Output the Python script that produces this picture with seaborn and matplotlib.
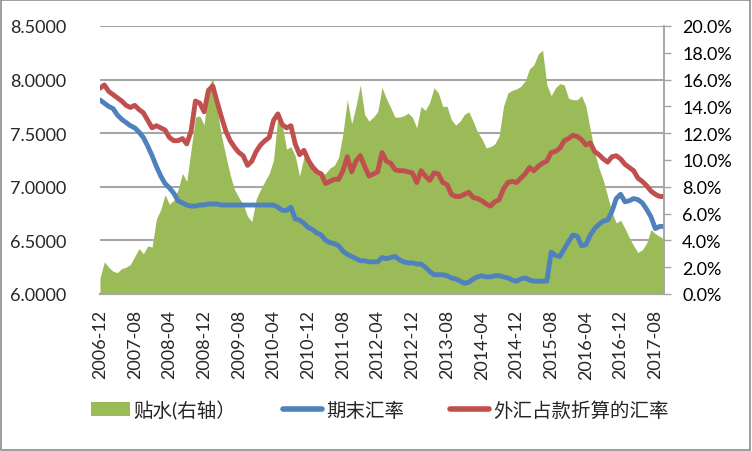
import matplotlib
matplotlib.use("Agg")
import matplotlib.pyplot as plt
import seaborn as sns
import pandas as pd
import numpy as np
from matplotlib.patches import Patch, Rectangle
from matplotlib.lines import Line2D
from matplotlib.ticker import MultipleLocator, FuncFormatter

# months 2006-12 .. 2017-10
months = pd.period_range("2006-12", "2017-10", freq="M").strftime("%Y-%m").tolist()

# 期末汇率
rate_end = [
    7.81, 7.78, 7.75, 7.73, 7.67, 7.63, 7.60, 7.57, 7.55, 7.51, 7.46, 7.38, 7.29,
    7.19, 7.10, 7.03, 6.99, 6.94, 6.87, 6.85, 6.83, 6.82, 6.82, 6.83, 6.83,
    6.84, 6.84, 6.84, 6.83, 6.83, 6.83, 6.83, 6.83, 6.83, 6.83, 6.83, 6.83,
    6.83, 6.83, 6.83, 6.83, 6.81, 6.78, 6.78,
    6.81, 6.70, 6.69, 6.66, 6.62, 6.60, 6.57, 6.55, 6.50, 6.48, 6.47, 6.45,
    6.40, 6.37, 6.35, 6.33, 6.31, 6.31, 6.30, 6.30, 6.30,
    6.34, 6.33, 6.34, 6.35, 6.32, 6.30, 6.29, 6.29, 6.28, 6.28, 6.25, 6.21,
    6.18, 6.18, 6.18, 6.17, 6.15, 6.14, 6.12, 6.10, 6.11, 6.14, 6.16, 6.17,
    6.16, 6.16, 6.17, 6.17, 6.16, 6.15, 6.13, 6.12, 6.14, 6.15, 6.13, 6.12,
    6.12, 6.12, 6.12, 6.39, 6.36, 6.35, 6.42, 6.49, 6.55, 6.54,
    6.45, 6.46, 6.55, 6.61, 6.65, 6.68, 6.69, 6.77, 6.89, 6.93, 6.86, 6.87,
    6.89, 6.88, 6.85, 6.79, 6.72, 6.61, 6.63, 6.63,
]

# 外汇占款折算的汇率
rate_fx = [
    7.92, 7.95, 7.89, 7.86, 7.83, 7.80, 7.76, 7.74, 7.76, 7.72, 7.69, 7.62,
    7.55, 7.57, 7.55, 7.53, 7.46, 7.43, 7.43, 7.45, 7.40, 7.52,
    7.80, 7.78, 7.70, 7.90, 7.94, 7.79, 7.65, 7.52, 7.43, 7.37, 7.32, 7.29,
    7.20, 7.24, 7.33, 7.39, 7.43, 7.46, 7.62, 7.68, 7.58, 7.55,
    7.57, 7.40, 7.30, 7.34, 7.25, 7.18, 7.14, 7.12, 7.03, 7.05, 7.07, 7.07,
    7.15, 7.28, 7.14, 7.24, 7.29, 7.19, 7.10, 7.12, 7.14, 7.32,
    7.24, 7.22, 7.16, 7.15, 7.15, 7.14, 7.13, 7.04, 7.15, 7.10, 7.06, 7.13,
    7.12, 7.04, 7.02, 6.93, 6.91, 6.91, 6.93, 6.95, 6.90, 6.89, 6.87,
    6.84, 6.82, 6.86, 6.88, 6.98, 7.04, 7.05, 7.04, 7.08, 7.12, 7.18, 7.15,
    7.19, 7.22, 7.24, 7.32, 7.33, 7.36, 7.43, 7.45, 7.48, 7.47,
    7.44, 7.39, 7.41, 7.33, 7.30, 7.26, 7.23, 7.28, 7.29, 7.26, 7.21, 7.18,
    7.15, 7.08, 7.05, 7.01, 6.96, 6.93, 6.91, 6.91,
]

# 贴水 (%), right axis
discount = [
    1.2, 2.4, 2.0, 1.7, 1.6, 1.9, 2.0, 2.2, 2.8, 3.4, 3.0, 3.6, 3.5, 5.6,
    6.3, 7.4, 6.7, 7.0, 7.8, 9.0, 8.4, 10.8, 13.2,
    13.3, 12.6, 15.5, 16.1, 13.8, 11.8, 10.3, 8.9, 7.8, 7.2, 6.7, 5.8, 5.4,
    7.1, 7.8, 8.4, 9.0, 10.0, 13.3, 12.6, 10.8,
    11.0, 10.3, 8.8, 10.2, 10.2, 9.8, 9.4, 8.9, 9.0, 9.4, 9.6, 10.2, 12.0,
    14.5, 12.7, 14.0, 15.6, 13.4, 12.9, 13.2, 13.6, 15.4,
    14.6, 13.9, 13.2, 13.2, 13.3, 13.5, 13.2, 12.4, 14.0, 13.7, 14.3, 15.4,
    15.0, 14.0, 14.0, 13.0, 12.6, 12.9, 13.4, 13.6, 12.9, 12.1, 11.6,
    10.9, 11.0, 11.2, 11.8, 14.0, 15.0, 15.2, 15.3, 15.5, 15.9, 16.8, 17.1,
    17.9, 18.2, 15.6, 14.8, 15.4, 15.7, 15.6, 14.6, 14.5, 14.5,
    14.8, 14.0, 12.3, 10.6, 9.4, 8.5, 7.3, 6.1, 5.3, 5.5, 4.9, 4.2, 3.6,
    3.1, 3.3, 3.8, 4.8, 4.5, 4.3, 4.1,
]

df = pd.DataFrame({
    "idx": np.arange(len(months)),
    "month": months,
    "rate_end": rate_end,
    "rate_fx": rate_fx,
    "discount": np.array(discount) / 100,
})

green = "#9BBB59"
blue = "#4F81BD"
red = "#C0504D"
grid_c = "#A6A6A6"

sns.set_theme(style="white")
plt.rcParams["font.family"] = ["Lato", "Noto Sans CJK SC", "DejaVu Sans"]

fig = plt.figure(figsize=(7.52, 4.52), dpi=100)
ax = fig.add_axes([100 / 752, 1 - 295 / 452, 564 / 752, 268 / 452])
ax2 = ax.twinx()

# area on the right axis (below lines)
ax2.fill_between(df["idx"], df["discount"], color=green, lw=0, zorder=2)
ax2.set_ylim(0, 0.20)
ax2.yaxis.set_major_locator(MultipleLocator(0.04))
ax2.yaxis.set_minor_locator(MultipleLocator(0.02))
pct = FuncFormatter(lambda v, p: f"{v * 100:.1f}%")
ax2.yaxis.set_major_formatter(pct)
ax2.yaxis.set_minor_formatter(pct)
ax2.grid(True, which="major", axis="y", color=grid_c, lw=1.5, zorder=0)
ax2.set_axisbelow(True)
ax2.tick_params(axis="y", which="both", direction="out", length=5, width=1,
                color=grid_c, labelsize=13, pad=8, labelcolor="black")

# lines on the left axis
ax.set_zorder(ax2.get_zorder() + 1)
ax.patch.set_visible(False)
sns.lineplot(data=df, x="idx", y="rate_end", ax=ax, color=blue, lw=3.5,
             solid_capstyle="round")
sns.lineplot(data=df, x="idx", y="rate_fx", ax=ax, color=red, lw=3.5,
             solid_capstyle="round")
ax.set_ylim(6.0, 8.5)
ax.set_yticks(np.arange(6.0, 8.51, 0.5))
ax.yaxis.set_major_formatter(FuncFormatter(lambda v, p: f"{v:.4f}"))
ax.tick_params(axis="y", length=0, labelsize=13, pad=24)
ax.set_xlim(0, len(months) - 1)
ax.set_xticks(df["idx"][::8])
ax.set_xticklabels(df["month"][::8], rotation=90)
ax.tick_params(axis="x", length=0, labelsize=13, pad=11)
ax.set_xlabel("")
ax.set_ylabel("")

for a in (ax, ax2):
    for s in ("top", "left"):
        a.spines[s].set_visible(False)
    a.spines["bottom"].set_color(grid_c)
    a.spines["bottom"].set_linewidth(1.5)
    a.spines["right"].set_color(grid_c)
    a.spines["right"].set_linewidth(1.2)

handles = [
    Patch(facecolor=green, edgecolor="none"),
    Line2D([0], [0], color=blue, lw=4, solid_capstyle="round"),
    Line2D([0], [0], color=red, lw=4, solid_capstyle="round"),
]
labels = ["贴水(右轴）", "期末汇率", "外汇占款折算的汇率"]
fig.legend(handles, labels, loc="center", bbox_to_anchor=(0.505, 0.093),
           ncol=3, frameon=False, fontsize=14, handlelength=2.0,
           handleheight=0.7, handletextpad=0.2, columnspacing=2.4)

fig.patches.append(Rectangle((0.001, 0.002), 0.997, 0.996, transform=fig.transFigure,
                             fill=False, edgecolor="#8C8C8C", lw=1.2))

fig.savefig("out.png", dpi=100)
